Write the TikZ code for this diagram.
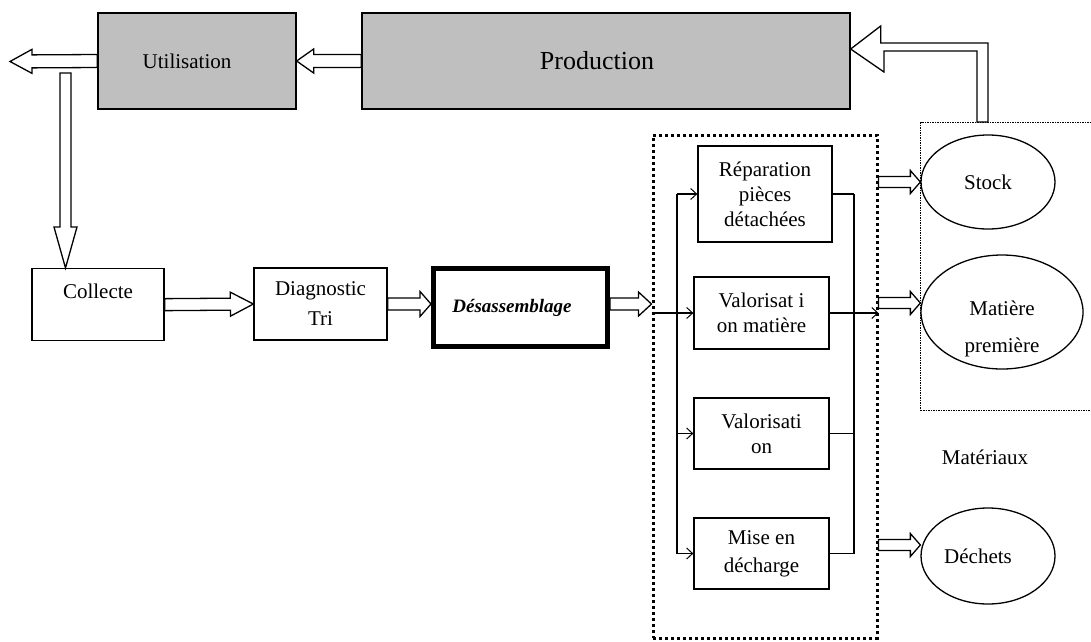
\documentclass[tikz,border=0pt]{standalone}
\usepackage{fontspec}
\setmainfont{Liberation Serif}
\usetikzlibrary{calc,shapes.geometric,arrows.meta}
\tikzset{
  box/.style={draw, line width=1.3pt, inner sep=0pt, align=center},
  greybox/.style={box, fill=gray!50},
  blob/.style={ellipse, draw, line width=1.3pt, inner sep=0pt},
  wire/.style={line width=1.3pt},
  feed/.style={line width=1.3pt, -{Straight Barb[length=6pt,width=11pt,line width=1pt]}},
  hollow/.style args={#1/#2/#3}{line width=1.3pt, to path={
    let \p1=($(\tikztotarget)-(\tikztostart)$),
        \n1={atan2(\y1,\x1)}, \n2={veclen(\x1,\y1)-#3},
        \n3={\n1+90}, \n4={\n1-90} in
    ($(\tikztostart)+(\n3:#1pt)$)
    -- ($(\tikztostart)+(\n1:\n2)+(\n3:#1pt)$)
    -- ($(\tikztostart)+(\n1:\n2)+(\n3:#2pt)$)
    -- (\tikztotarget)
    -- ($(\tikztostart)+(\n1:\n2)+(\n4:#2pt)$)
    -- ($(\tikztostart)+(\n1:\n2)+(\n4:#1pt)$)
    -- ($(\tikztostart)+(\n4:#1pt)$)
    -- cycle}}
}

\begin{document}
\begin{tikzpicture}[x=1pt, y=-1pt, font=\fontsize{21}{25}\selectfont]
\useasboundingbox (0,0) rectangle (1091,641);
\node[greybox, minimum width=198pt, minimum height=96pt] (util) at (197,61) {Utilisation\kern20pt};
\node[greybox, minimum width=488pt, minimum height=96pt, font=\fontsize{26}{30}\selectfont] (prod) at (606,61) {Production\kern18pt};

\node[box, minimum width=132pt, anchor=north, text height=30pt, text depth=42pt] (collecte) at (98,268) {Collecte};
\node[box, minimum width=133pt, minimum height=72pt, font=\fontsize{21}{30}\selectfont] (diag) at (320.5,304) {Diagnostic\\Tri};
\node[box, line width=5pt, minimum width=174pt, minimum height=78pt, font=\fontsize{19}{23}\selectfont\bfseries\itshape] (desas) at (520.5,307.5) {Désassemblage\kern17pt};

\node[draw, line width=3pt, dash pattern=on 3pt off 3pt, minimum width=224pt, minimum height=503pt] (zone) at (765,386.5) {};
\node[box, minimum width=134pt, minimum height=96pt] (rep) at (765,194) {Réparation\\pièces\\détachées};
\node[box, minimum width=135pt, minimum height=72pt] (val1) at (761.5,313) {Valorisat i\\on matière};
\node[box, minimum width=135pt, minimum height=71pt] (val2) at (761.5,433.5) {Valorisati\\on};
\node[box, minimum width=135pt, minimum height=71pt, font=\fontsize{21}{28}\selectfont] (mise) at (761.5,553.5) {Mise en\\décharge};

\node[draw, line width=1pt, dash pattern=on 1.5pt off 1pt, anchor=north west, minimum width=180pt, minimum height=288pt] (reserve) at (920,122) {};
\node[blob, minimum width=134pt, minimum height=94pt] (stock) at (988,182) {Stock};
\node[blob, minimum width=162pt, minimum height=114pt, font=\fontsize{21}{37}\selectfont] (matiere) at (1002,312) {\raisebox{0pt}[40pt][1.4pt]{\begin{tabular}{@{}c@{}}Matière\\première\end{tabular}}};
\node[blob, minimum width=134pt, minimum height=96pt] (dechets) at (988,556) {Déchets\kern20pt};
\node (materiaux) at (985,457) {Matériaux};

\coordinate (sortie) at (10,61.5);
\coordinate (retour) at (65.5,73);
\coordinate (mp) at ([yshift=9pt]matiere.west);
\coordinate (dp) at ([yshift=11pt]dechets.west);
\draw[hollow=6.5/12/22] (util.west) to (sortie);
\draw[hollow=6.5/12/17] (prod.west) to (util.east);
\draw[hollow=5.5/11.5/41] (retour) to (retour |- collecte.north);
\draw[hollow=6/12/23] (collecte.east) to (diag.west);
\draw[hollow=6/12.5/11] (diag.east) to (desas.west |- diag.east);
\draw[hollow=6/12/13] (desas.east |- diag.east) to (zone.west |- diag.east);
\draw[hollow=5.5/11.5/10] (zone.east |- stock.west) to (stock.west);
\draw[hollow=5.5/11.5/10] (zone.east |- mp) to (mp);
\draw[hollow=5.5/11.5/10] (zone.east |- dp) to (dp);
\draw[wire] ([yshift=12pt]prod.east) -- ++(30,-23) -- ++(0,17) -- (988,43) -- ([xshift=68pt]reserve.north west) -- ++(-11,0) -- (977,51) -- (884,51) -- (884,72) -- cycle;

\coordinate (busl) at (677,0);
\coordinate (busr) at (854,0);
\draw[wire] (rep.west -| busl) -- (mise.west -| busl);
\draw[wire] (rep.east -| busr) -- (mise.east -| busr);
\foreach \b in {rep,val1,val2,mise} \draw[feed] (\b.west -| busl) -- (\b.west);
\foreach \b in {rep,val2,mise} \draw[wire] (\b.east) -- (\b.east -| busr);
\draw[wire] (val1.west -| zone.west) -- (val1.west -| busl);
\draw[feed] (val1.east) -- (val1.east -| zone.east);
\end{tikzpicture}
\end{document}
